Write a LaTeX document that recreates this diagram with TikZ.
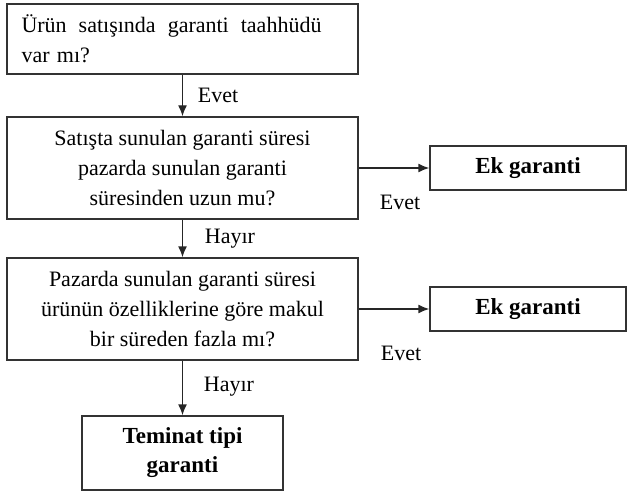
\documentclass[tikz,border=0pt]{standalone}
\usepackage{fontspec}
\setmainfont{Liberation Serif}
\usetikzlibrary{arrows.meta}

\begin{document}
\begin{tikzpicture}[x=1pt,y=-1pt,
  box/.style={draw=black!80, line width=1.4pt, rectangle, inner sep=0pt,
    font=\fontsize{22}{30}\selectfont, align=center},
  result/.style={box, font=\fontsize{23}{29}\selectfont\bfseries},
  flow/.style={draw=black!85, line width=1.4pt,
    -{Latex[length=11pt,width=9pt]}},
  lbl/.style={font=\fontsize{22}{26}\selectfont, inner sep=0pt}]
  \useasboundingbox (0,0) rectangle (627,492);

  % decision boxes
  \node[box, minimum width=351pt, minimum height=70pt, text width=322pt, align=left] (q1) at (182.5,39)
    {\makebox[300pt][s]{Ürün\hfill satışında\hfill garanti\hfill taahhüdü}\\var mı?};
  \node[box, minimum width=351pt, minimum height=102pt] (q2) at (182.5,168)
    {Satışta sunulan garanti süresi\\pazarda sunulan garanti\\süresinden uzun mu?};
  \node[box, minimum width=351pt, minimum height=102pt] (q3) at (182.5,309)
    {Pazarda sunulan garanti süresi\\ürünün özelliklerine göre makul\\bir süreden fazla mı?};

  % outcomes
  \node[result, minimum width=196pt, minimum height=44pt] (e1) at (528,168) {Ek garanti};
  \node[result, minimum width=196pt, minimum height=44pt] (e2) at (528,309) {Ek garanti};
  \node[result, minimum width=201pt, minimum height=74pt] (t) at (182.5,453)
    {Teminat tipi\\garanti};

  % connectors
  \draw[flow] (q1.south) -- (q2.north);
  \draw[flow] (q2.south) -- (q3.north);
  \draw[flow] (q3.south) -- (t.north);
  \draw[flow] (q2.east) -- (e1.west);
  \draw[flow] (q3.east) -- (e2.west);

  % branch labels
  \node[lbl] (l1) at (218,95) {Evet};
  \node[lbl] (l2) at (230,239) {Hayır};
  \node[lbl] (l3) at (229,387) {Hayır};
  \node[lbl] (l4) at (400,202) {Evet};
  \node[lbl] (l5) at (401,353) {Evet};
\end{tikzpicture}
\end{document}
